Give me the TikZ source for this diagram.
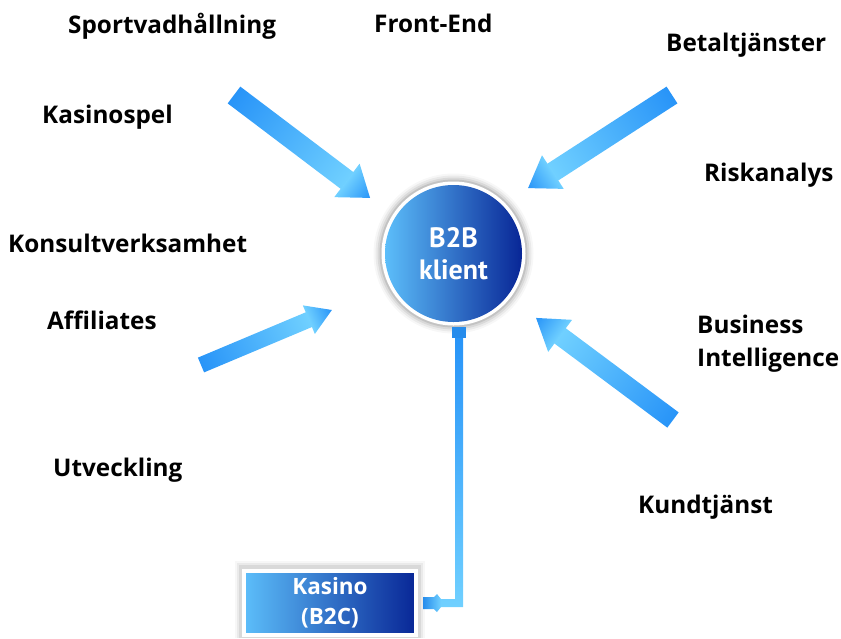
\documentclass[tikz,border=0pt]{standalone}
\usepackage{fontspec}
\setmainfont{Open Sans}
\newfontfamily\ptsans{PT Sans}
\usetikzlibrary{calc}
\definecolor{adark}{RGB}{40,148,248}
\definecolor{alight}{RGB}{112,208,255}
\definecolor{cl}{RGB}{92,190,250}
\definecolor{cm}{RGB}{45,128,228}
\definecolor{cd}{RGB}{8,38,150}
\definecolor{stubc}{RGB}{38,140,236}
\tikzset{
  lbl/.style={anchor=base west, inner sep=0pt, font=\fontsize{24.3}{33}\selectfont\bfseries},
  hub/.style={circle, minimum size=137pt, inner sep=0pt, left color=cl, middle color=cm, right color=cd,
    text=white, align=center, font=\ptsans\fontsize{28}{32}\selectfont\bfseries},
  client/.style={rectangle, minimum width=172pt, minimum height=64pt, inner sep=0pt, draw=white, line width=4pt,
    left color=cl, middle color=cm, right color=cd, text=white, align=center,
    font=\fontsize{22.5}{30}\selectfont\bfseries},
  stubbox/.style={rectangle, minimum width=14pt, minimum height=11pt, inner sep=0pt, outer sep=0pt, fill=stubc}
}
% tail, angle, length, shaft width, head width, head length
\newcommand\blockarrow[6]{%
  \begin{scope}[transform canvas={shift={(#1)},rotate=#2}]
    \shade[left color=adark,right color=alight] (0,-#4/2) rectangle (#3-#6+0.5,#4/2);
    \shade[left color=alight,right color=adark] (#3-#6,-#5/2) -- (#3,0) -- (#3-#6,#5/2) -- cycle;
  \end{scope}}
\begin{document}
\begin{tikzpicture}[x=1pt,y=-1pt]
\useasboundingbox (0,0) rectangle (841,638);
% labels
\node[lbl] (sport) at (68,33) {Sportvadhållning};
\node[lbl] (front) at (374,32) {Front-End};
\node[lbl] (betal) at (666,51) {Betaltjänster};
\node[lbl] (kspel) at (42,123) {Kasinospel};
\node[lbl] (risk) at (704,181) {Riskanalys};
\node[lbl] (konsult) at (8,252) {Konsultverksamhet};
\node[lbl] (aff) at (47,329) {Affiliates};
\node[lbl, anchor=west, align=left] (bi) at (697,344) {Business\\Intelligence};
\node[lbl] (utv) at (53,476) {Utveckling};
\node[lbl] (kund) at (638,513) {Kundtjänst};
% arrows
\coordinate (a1) at (234,95);
\coordinate (a2) at (672,95);
\coordinate (a3) at (201,365);
\coordinate (a4) at (673,420);
\blockarrow{a1}{-37.1}{170.6}{21}{42}{29}
\blockarrow{a2}{-147.1}{171.4}{20}{40}{29.5}
\blockarrow{a3}{22.8}{142}{16}{31}{25}
\blockarrow{a4}{143.3}{170.8}{19}{40}{30}
% hub
\coordinate (cc) at (453.5,253.5);
\foreach \r/\o in {80/0.03,78/0.05,76/0.07,74/0.1}{\fill[black,opacity=\o] (cc) circle (\r pt);}
\fill[white] (cc) circle (72pt);
\node[hub] (b2b) at (cc) {B2B\\klient};
\node[stubbox] (stub) at (459,332.5) {};
% client box
\foreach \d/\o in {7/0.03,5/0.05,3/0.07}{\fill[black,opacity=\o] (242-\d,568-\d) rectangle (418+\d,638);}
\node[client] (kasino) at (330,603) {Kasino\\(B2C)};
% connector
\coordinate (kend) at ($(kasino.east)+(19,0)$);
\coordinate (corner) at (stub.south |- kend);
\shade[top color=adark, bottom color=alight]
  ($(stub.south)+(-4,0)$) -- ($(stub.south)+(4,0)$) -- ($(corner)+(4,4)$) -- ($(kend)+(0,4)$)
  -- ($(kend)+(0,-4)$) -- ($(corner)+(-4,-4)$) -- cycle;
\begin{scope}[shift={(kend)}]
  \shade[left color=stubc, right color=alight]
    (-14,-6) -- (-3,-6) -- (0,-9) -- (4,-4) -- (4,4) -- (0,9) -- (-3,6) -- (-14,6) -- cycle;
\end{scope}
\end{tikzpicture}
\end{document}
